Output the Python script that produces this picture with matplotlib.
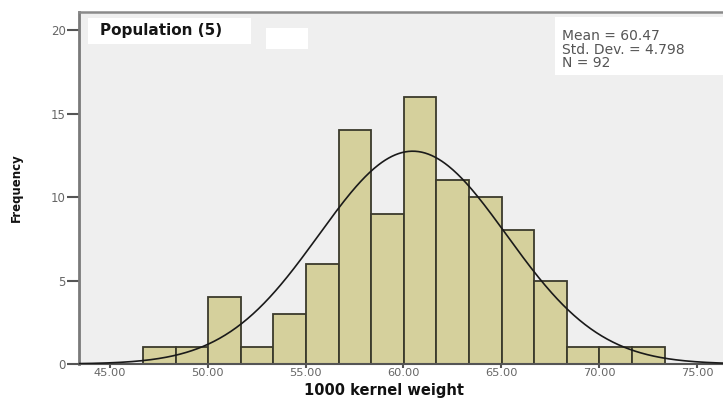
import numpy as np
import matplotlib
matplotlib.use("Agg")
import matplotlib.pyplot as plt
from matplotlib.patches import Rectangle

# Histogram of 1000 kernel weight, population 5
counts = [1, 1, 4, 1, 3, 6, 14, 9, 16, 11, 10, 8, 5, 1, 1, 1]
bin_start = 46.69
bin_width = 1.666
mean_val = 60.47
sd_val = 4.798
n_val = 92
x_ticks = [45.0, 50.0, 55.0, 60.0, 65.0, 70.0, 75.0]
y_ticks = [0, 5, 10, 15, 20]

edges = bin_start + bin_width * np.arange(len(counts) + 1)

W, H = 723, 398
PX = 72 / 100  # points per pixel at 100 dpi
fig = plt.figure(figsize=(W / 100, H / 100), dpi=100)
fig.patch.set_facecolor("white")

ax = fig.add_axes([79 / W, 1 - 364 / H, (W - 79) / W, 352 / H])
ax.set_facecolor("#efefef")

ax.bar(edges[:-1], counts, width=bin_width, align="edge",
       color="#d5d09c", edgecolor="#3b3a2c", linewidth=1.3, zorder=2)

# Fitted normal curve scaled to counts
xs = np.linspace(43.0, 77.0, 600)
pdf = np.exp(-0.5 * ((xs - mean_val) / sd_val) ** 2) / (sd_val * np.sqrt(2 * np.pi))
ax.plot(xs, pdf * n_val * bin_width, color="#1a1a1a", linewidth=1.2, zorder=3)

ax.set_xlim(43.415, 76.33)
ax.set_ylim(0, 21.08)

ax.spines["right"].set_visible(False)
ax.spines["left"].set_color("#7a7a7a")
ax.spines["left"].set_linewidth(2.0)
ax.spines["top"].set_color("#8a8a8a")
ax.spines["top"].set_linewidth(1.8)
ax.spines["bottom"].set_color("#555555")
ax.spines["bottom"].set_linewidth(1.5)

ax.set_xticks(x_ticks)
ax.set_xticklabels([f"{v:.2f}" for v in x_ticks])
ax.set_yticks(y_ticks)
ax.set_yticklabels([str(v) for v in y_ticks])
ax.tick_params(axis="y", direction="out", length=12 * PX, width=1.5, color="#555555",
               labelsize=8.5, labelcolor="#666666", pad=1)
ax.tick_params(axis="x", direction="out", length=4 * PX, width=1.5, color="#555555",
               labelsize=8.2, labelcolor="#666666", pad=0)
for lab in ax.get_xticklabels() + ax.get_yticklabels():
    lab.set_family("DejaVu Sans")

# Title box and blank box
fig.patches.append(Rectangle((88 / W, 1 - 44 / H), 163 / W, 26 / H,
                             transform=fig.transFigure, facecolor="white",
                             edgecolor="none", zorder=5))
fig.patches.append(Rectangle((266 / W, 1 - 49 / H), 42 / W, 21 / H,
                             transform=fig.transFigure, facecolor="white",
                             edgecolor="none", zorder=5))
fig.text(100 / W, 1 - 30 / H, "Population (5)", fontsize=11, fontweight="bold",
         family="DejaVu Sans", color="#151515", va="center", ha="left", zorder=6)

# Statistics box
fig.patches.append(Rectangle((555 / W, 1 - 75 / H), (W - 555) / W, 58 / H,
                             transform=fig.transFigure, facecolor="white",
                             edgecolor="none", zorder=5))
stats = [f"Mean = {mean_val:.2f}", f"Std. Dev. = {sd_val:.3f}", f"N = {n_val}"]
for i, s in enumerate(stats):
    fig.text(562 / W, 1 - (36 + 13.5 * i) / H, s, fontsize=10, family="DejaVu Sans",
             color="#555555", va="center", ha="left", zorder=6)

# Axis labels
fig.text(384 / W, 1 - 382.5 / H, "1000 kernel weight", fontsize=10.5, fontweight="bold",
         family="DejaVu Sans", color="#111111", va="top", ha="center")
fig.text(16 / W, 1 - 188 / H, "Frequency", fontsize=8.5, fontweight="bold",
         family="DejaVu Sans", color="#111111",
         va="center", ha="center", rotation=90)

fig.savefig("out.png", dpi=100)
